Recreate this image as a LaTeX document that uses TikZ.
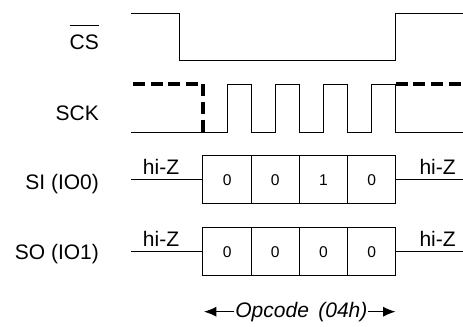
\documentclass[tikz,border=0pt]{standalone}
\usepackage{fontspec}
\setmainfont{Liberation Sans}
\usetikzlibrary{arrows.meta}

\begin{document}
\begin{tikzpicture}[x=0.5pt, y=-0.5pt]
		\tikzstyle {wave} = [line width=0.5pt]
		\tikzstyle {float} = [line width=1.6pt, dash pattern=on 6pt off 2.8pt]
		\tikzstyle {signal} = [anchor=base east, inner sep=0pt, font=\fontsize{10.5}{12}\selectfont]
		\tikzstyle {bit} = [draw, line width=0.5pt, minimum width=24.1pt, minimum height=23.8pt, inner sep=0pt, font=\fontsize{7.8}{9}\selectfont]
		\tikzstyle {hiz} = [above=2.4pt, inner sep=0pt, font=\fontsize{10.5}{12}\selectfont]
		\tikzstyle {span arrow} = [line width=0.5pt, -{Latex[length=6.2pt, width=5pt]}]

		\useasboundingbox (0,0) rectangle (463,327);

		% signal names
		\node[signal] (cs) at (99.3,49) {$\overline{\mbox{CS}\rule{0pt}{10.6pt}}$};
		\node[signal] (sck) at (99.3,120) {SCK};
		\node[signal] (si) at (99.3,190) {SI (IO0)};
		\node[signal] (so) at (99.3,259) {SO (IO1)};

		% chip select
		\draw[wave] (131,13) -- (179.7,13) -- (179.7,60.7) -- (395.8,60.7) -- (395.8,13) -- (463,13);

		% clock
		\draw[wave] (131,132) -- (227.4,132) -- (227.4,84) -- (251.2,84) -- (251.2,132)
			-- (275.8,132) -- (275.8,84) -- (299.4,84) -- (299.4,132)
			-- (323.9,132) -- (323.9,84) -- (347.6,84) -- (347.6,132)
			-- (372,132) -- (372,84) -- (395.8,84) -- (395.8,132) -- (463,132);
		\draw[float] (133,84) -- (203,84) -- (203,132);
		\draw[float] (395.8,84) -- (463,84);

		% SI bits
		\node[bit] (si1) at (227.1,179.7) {0};
		\node[bit] (si2) at (275.3,179.7) {0};
		\node[bit] (si3) at (323.5,179.7) {1};
		\node[bit] (si4) at (371.7,179.7) {0};
		\coordinate (si-in) at (131,179.7);
		\coordinate (si-out) at (463,179.7);
		\draw[wave] (si-in) -- node[hiz, pos=0.42] {hi-Z} (si1.west);
		\draw[wave] (si4.east) -- node[hiz, pos=0.62] {hi-Z} (si-out);

		% SO bits
		\node[bit] (so1) at (227.1,251.7) {0};
		\node[bit] (so2) at (275.3,251.7) {0};
		\node[bit] (so3) at (323.5,251.7) {0};
		\node[bit] (so4) at (371.7,251.7) {0};
		\coordinate (so-in) at (131,251.7);
		\coordinate (so-out) at (463,251.7);
		\draw[wave] (so-in) -- node[hiz, pos=0.42] {hi-Z} (so1.west);
		\draw[wave] (so4.east) -- node[hiz, pos=0.62] {hi-Z} (so-out);

		% opcode span
		\node[anchor=base, inner sep=0.3pt, font=\fontsize{10.5}{12}\selectfont\itshape] (opc) at (301.4,317.3) {Opcode\hspace{0.45em}(04h)};
		\coordinate (op-l) at (204,311.7);
		\coordinate (op-r) at (395.5,311.7);
		\draw[span arrow] (opc.west |- op-l) -- (op-l);
		\draw[span arrow] (opc.east |- op-r) -- (op-r);
\end{tikzpicture}
\end{document}
